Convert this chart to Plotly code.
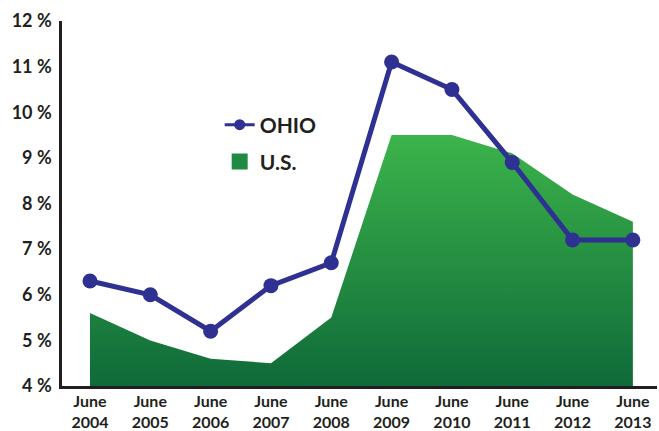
import plotly.graph_objects as go

categories = ["June<br>2004", "June<br>2005", "June<br>2006", "June<br>2007", "June<br>2008",
              "June<br>2009", "June<br>2010", "June<br>2011", "June<br>2012", "June<br>2013"]
ohio = [6.3, 6.0, 5.2, 6.2, 6.7, 11.1, 10.5, 8.9, 7.2, 7.2]
us = [5.6, 5.0, 4.6, 4.5, 5.5, 9.5, 9.5, 9.1, 8.2, 7.6]
y_ticks = [4, 5, 6, 7, 8, 9, 10, 11, 12]
y_tick_labels = ["4 %", "5 %", "6 %", "7 %", "8 %", "9 %", "10 %", "11 %", "12 %"]

FONT = "Lato"
TEXT = "#231f20"
BLUE = "#2e3192"
GREEN_DARK = "#0f6a39"
GREEN_LIGHT = "#3cb44b"

fig = go.Figure()
fig.add_trace(go.Scatter(
    x=categories, y=us, name="U.S.", mode="none", fill="tozeroy",
    fillgradient=dict(type="vertical", start=4, stop=9.5,
                      colorscale=[[0, GREEN_DARK], [1, GREEN_LIGHT]]),
    showlegend=False, hoverinfo="skip",
))
fig.add_trace(go.Scatter(
    x=categories, y=ohio, name="OHIO", mode="lines+markers",
    line=dict(color=BLUE, width=5),
    marker=dict(color=BLUE, size=15),
    showlegend=False,
))
# legend entries (no data drawn)
fig.add_trace(go.Scatter(
    x=[None], y=[None], name="OHIO", mode="lines+markers",
    line=dict(color=BLUE, width=3), marker=dict(color=BLUE, size=11),
    legend="legend", showlegend=True,
))
fig.add_trace(go.Scatter(
    x=[None], y=[None], name="U.S.", mode="markers",
    marker=dict(symbol="square", size=18, color="#1e8a43"),
    legend="legend2", showlegend=True,
))

legend_font = dict(size=21, family=FONT, weight="bold", color=TEXT)
fig.update_layout(
    width=659, height=431,
    margin=dict(l=62, r=2, t=21, b=45),
    paper_bgcolor="white", plot_bgcolor="white",
    font=dict(family=FONT, color=TEXT),
    showlegend=True,
    legend=dict(x=0.265, y=0.715, xanchor="left", yanchor="middle",
                font=legend_font, bgcolor="rgba(0,0,0,0)", itemwidth=30),
    legend2=dict(x=0.265, y=0.614, xanchor="left", yanchor="middle",
                 font=legend_font, bgcolor="rgba(0,0,0,0)", itemwidth=30),
    xaxis=dict(type="category", range=[-0.464, 9.4], showgrid=False, automargin=False,
               showline=True, linecolor=TEXT, linewidth=2.5, ticks="",
               ticklabelstandoff=-1,
               tickfont=dict(size=16, family=FONT, weight="bold", color=TEXT)),
    yaxis=dict(range=[4, 12], tickvals=y_ticks, ticktext=y_tick_labels, showgrid=False,
               automargin=False, zeroline=False, showline=True, linecolor=TEXT,
               linewidth=2.5, ticks="", ticklabelstandoff=4,
               tickfont=dict(size=18, family=FONT, weight="bold", color=TEXT)),
)

fig.write_html("out.html", config={"displayModeBar": False},
               post_script="document.body.style.margin='0';document.body.style.overflow='hidden';")
